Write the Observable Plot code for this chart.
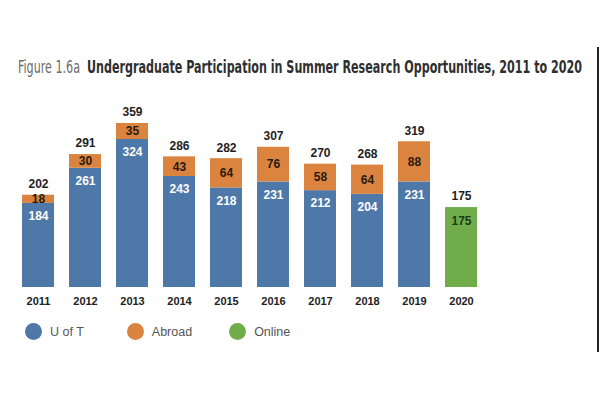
<!DOCTYPE html>
<html>
<head>
<meta charset="utf-8">
<script src="https://cdn.jsdelivr.net/npm/d3@7"></script>
<script src="https://cdn.jsdelivr.net/npm/@observablehq/plot@0.6"></script>
<style>
  html, body { margin: 0; padding: 0; background: #fff; }
  #wrap { position: relative; width: 600px; height: 400px; overflow: hidden; background: #fff; }
  #title { position: absolute; left: 18px; top: 57px; white-space: nowrap; transform-origin: 0 50%;
    font-family: "DejaVu Sans Condensed", "Liberation Sans Narrow", sans-serif; font-stretch: condensed; font-size: 17.5px; color: #333; }
  #title .fig { color: #6b6b6b; font-weight: normal; }
  #title .main { font-weight: bold; color: #2f2f2f; }
  #chart { position: absolute; left: 0; top: 100px; }
  #legend { position: absolute; left: 25px; top: 323px; display: flex; align-items: center;
    font-family: "Liberation Sans", Arial, sans-serif; font-size: 12.5px; color: #555; }
  .item { display: flex; align-items: center; }
  .dot { width: 17px; height: 17px; border-radius: 50%; margin-right: 8px; }
  #border { position: absolute; left: 597px; top: 47px; width: 2px; height: 305px; background: #222; }
</style>
</head>
<body>
<div id="wrap">
  <div id="title"><span class="fig">Figure 1.6a</span>&nbsp; <span class="main">Undergraduate Participation in Summer Research Opportunities, 2011 to 2020</span></div>
  <div id="chart"></div>
  <div id="legend"></div>
  <div id="border"></div>
</div>
<script>
const years = ["2011","2012","2013","2014","2015","2016","2017","2018","2019","2020"];
const uoft = [184, 261, 324, 243, 218, 231, 212, 204, 231, 0];
const abroad = [18, 30, 35, 43, 64, 76, 58, 64, 88, 0];
const online = [0, 0, 0, 0, 0, 0, 0, 0, 0, 175];
const totals = [202, 291, 359, 286, 282, 307, 270, 268, 319, 175];
const seriesNames = ["U of T", "Abroad", "Online"];
const seriesColors = ["#4e78a8", "#da843f", "#71ac4b"];

const rows = [];
years.forEach((yr, i) => {
  rows.push({year: yr, series: "U of T", value: uoft[i]});
  rows.push({year: yr, series: "Abroad", value: abroad[i]});
  rows.push({year: yr, series: "Online", value: online[i]});
});
const idx = years.map((y, i) => i);

const labelFont = "Liberation Sans, Arial, sans-serif";

const chart = Plot.plot({
  width: 600,
  height: 215,
  marginLeft: 6,
  marginRight: 107,
  marginTop: 23,
  marginBottom: 28,
  style: {fontFamily: labelFont, background: "transparent"},
  x: {domain: years, padding: 0.32, label: null},
  y: {domain: [0, 359], axis: null},
  color: {domain: seriesNames, range: seriesColors},
  marks: [
    Plot.barY(rows.filter(d => d.value > 0), {
      x: "year", y: "value", fill: "series", order: seriesNames
    }),
    Plot.axisX({tickSize: 0, tickPadding: 10, fontSize: 11, fontWeight: "bold", fill: "#222", label: null}),
    Plot.text(idx.filter(i => uoft[i] > 0), {
      x: i => years[i], y: i => uoft[i], text: i => String(uoft[i]),
      dy: 13, fill: "white", fontWeight: "bold", fontSize: 12
    }),
    Plot.text(idx.filter(i => abroad[i] > 0), {
      x: i => years[i], y: i => uoft[i] + abroad[i] / 2, text: i => String(abroad[i]),
      fill: "#2a1a0e", fontWeight: "bold", fontSize: 12
    }),
    Plot.text(idx.filter(i => online[i] > 0), {
      x: i => years[i], y: i => online[i], text: i => String(online[i]),
      dy: 14, fill: "#173d12", fontWeight: "bold", fontSize: 12
    }),
    Plot.text(idx, {
      x: i => years[i], y: i => totals[i], text: i => String(totals[i]),
      dy: -11, fill: "#1e1e1e", fontWeight: "bold", fontSize: 12
    })
  ]
});
document.getElementById("chart").appendChild(chart);

// fit title to its width in the reference (x 18 to 582)
const title = document.getElementById("title");
const tw = title.getBoundingClientRect().width;
if (tw > 0) title.style.transform = "scaleX(" + (564 / tw) + ")";

const legend = document.getElementById("legend");
const gaps = [0, 43, 37];
seriesNames.forEach((name, i) => {
  const item = document.createElement("div");
  item.className = "item";
  item.style.marginLeft = gaps[i] + "px";
  const dot = document.createElement("div");
  dot.className = "dot";
  dot.style.background = seriesColors[i];
  const lab = document.createElement("span");
  lab.textContent = name;
  item.appendChild(dot);
  item.appendChild(lab);
  legend.appendChild(item);
});
</script>
</body>
</html>
